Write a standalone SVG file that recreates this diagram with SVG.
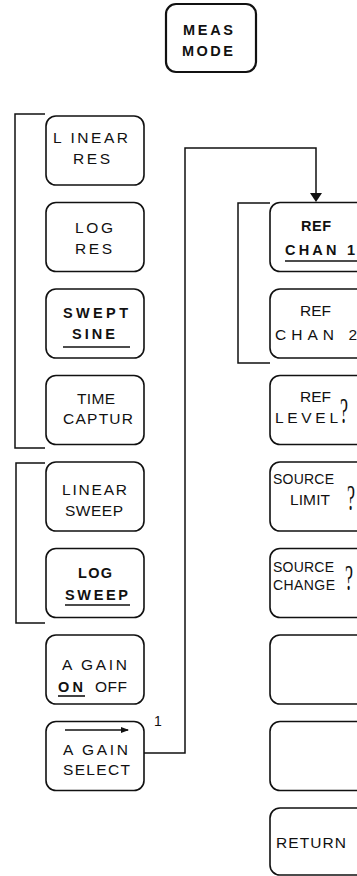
<svg xmlns="http://www.w3.org/2000/svg" width="357" height="876" viewBox="0 0 357 876">
<style>
.key{fill:#fff;stroke:#111;stroke-width:1.6}
.t{font-family:"Liberation Sans",Arial,sans-serif;font-size:15.5px;fill:#111}
.b{font-weight:bold;font-size:14.5px}
.s{font-size:14px}
.ul{stroke:#111;stroke-width:1.6}
.ln{fill:none;stroke:#111;stroke-width:1.5}
.q{font-family:"Liberation Serif",serif;font-size:36px;fill:#111}
</style>
<defs>
<marker id="ah" markerWidth="8" markerHeight="6" refX="7" refY="3" orient="auto" markerUnits="userSpaceOnUse">
<path d="M0,0 L8,3 L0,6 Z" fill="#111"/>
</marker>
</defs>
<rect width="357" height="876" fill="#fff"/>
<g id="connectors">
<path class="ln" d="M45,114 H15 V448 H45"/>
<path class="ln" d="M45,463 H16 V623 H45"/>
<path class="ln" d="M270,203 H238 V363 H270"/>
<path class="ln" d="M144,753 H185 V148 H316 V194"/>
<polygon points="310,193 322,193 316,202" fill="#111"/>
<text class="t" x="154" y="726" style="font-size:14px">1</text>
</g>
<g id="meas-mode">
<rect class="key" x="166" y="4" width="90" height="68" rx="10" style="stroke-width:2.2"/>
<text class="t b" x="183" y="35" textLength="50">MEAS</text>
<text class="t b" x="182" y="56" textLength="51">MODE</text>
</g>
<g id="linear-res">
<rect class="key" x="46" y="116" width="98" height="69" rx="10"/>
<text class="t" x="53" y="143" textLength="75">L INEAR</text>
<text class="t" x="73" y="164" textLength="37">RES</text>
</g>
<g id="log-res">
<rect class="key" x="46" y="202.5" width="98" height="69" rx="10"/>
<text class="t" x="75" y="233" textLength="38">LOG</text>
<text class="t" x="75" y="254" textLength="37">RES</text>
</g>
<g id="swept-sine">
<rect class="key" x="46" y="289" width="98" height="69" rx="10"/>
<text class="t b" x="63" y="318" textLength="65">SWEPT</text>
<text class="t b" x="72" y="339" textLength="43">SINE</text>
<line class="ul" x1="63" y1="347" x2="130" y2="347"/>
</g>
<g id="time-captur">
<rect class="key" x="46" y="375.5" width="98" height="69" rx="10"/>
<text class="t" x="77" y="404" textLength="38">TIME</text>
<text class="t" x="63" y="424" textLength="70">CAPTUR</text>
</g>
<g id="linear-sweep">
<rect class="key" x="46" y="462" width="98" height="69" rx="10"/>
<text class="t" x="62" y="495" textLength="65">LINEAR</text>
<text class="t" x="65" y="516" textLength="58">SWEEP</text>
</g>
<g id="log-sweep">
<rect class="key" x="46" y="548.5" width="98" height="69" rx="10"/>
<text class="t b" x="78" y="578" textLength="34">LOG</text>
<text class="t b" x="65" y="600" textLength="63">SWEEP</text>
<line class="ul" x1="65" y1="605" x2="130" y2="605"/>
</g>
<g id="a-gain-on-off">
<rect class="key" x="46" y="635" width="98" height="69" rx="10"/>
<text class="t" x="62" y="670" textLength="65">A GAIN</text>
<text class="t b" x="58" y="692" textLength="25">ON</text>
<text class="t" x="95" y="692" textLength="32">OFF</text>
<line class="ul" x1="58" y1="696" x2="85" y2="696"/>
</g>
<g id="a-gain-select">
<rect class="key" x="46" y="721.5" width="98" height="69" rx="10"/>
<line class="ul" x1="65" y1="730" x2="128" y2="730" marker-end="url(#ah)"/>
<text class="t" x="63" y="755" textLength="65">A GAIN</text>
<text class="t" x="63" y="775" textLength="67">SELECT</text>
</g>
<g id="ref-chan-1">
<rect class="key" x="270" y="202.5" width="96" height="69" rx="10"/>
<text class="t b" x="301" y="231" textLength="30">REF</text>
<text class="t b" x="285" y="255" textLength="70">CHAN 1</text>
<line class="ul" x1="285" y1="261" x2="357" y2="261"/>
</g>
<g id="ref-chan-2">
<rect class="key" x="270" y="289" width="96" height="69" rx="10"/>
<text class="t" x="300" y="316" textLength="31">REF</text>
<text class="t" x="275" y="340" textLength="82">CHAN 2</text>
</g>
<g id="ref-level">
<rect class="key" x="270" y="375.5" width="96" height="69" rx="10"/>
<text class="t" x="300" y="402" textLength="31">REF</text>
<text class="t" x="275" y="423" textLength="63">LEVEL</text>
<text class="q" transform="translate(340,423) scale(0.5,1)">?</text>
</g>
<g id="source-limit">
<rect class="key" x="270" y="462" width="96" height="69" rx="10"/>
<text class="t s" x="273" y="484" textLength="61">SOURCE</text>
<text class="t" x="290" y="505" textLength="40">LIMIT</text>
<text class="q" transform="translate(347,510) scale(0.5,1)">?</text>
</g>
<g id="source-change">
<rect class="key" x="270" y="548.5" width="96" height="69" rx="10"/>
<text class="t s" x="273" y="572" textLength="61">SOURCE</text>
<text class="t s" x="273" y="590" textLength="62">CHANGE</text>
<text class="q" transform="translate(345,590) scale(0.5,1)">?</text>
</g>
<g id="blank-1">
<rect class="key" x="270" y="635" width="96" height="69" rx="10"/>
</g>
<g id="blank-2">
<rect class="key" x="270" y="721.5" width="96" height="69" rx="10"/>
</g>
<g id="return">
<rect class="key" x="270" y="808" width="96" height="67" rx="10"/>
<text class="t" x="276" y="848" textLength="70">RETURN</text>
</g>
</svg>
